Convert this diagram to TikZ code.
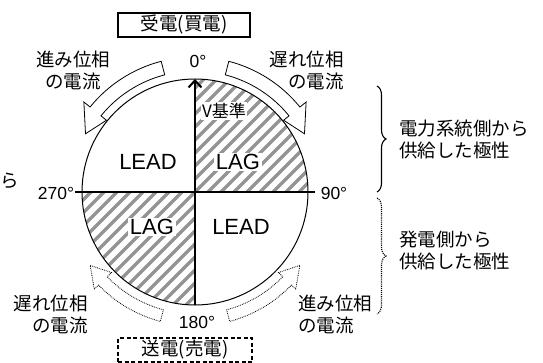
\documentclass[tikz,border=0pt]{standalone}
\usepackage{fontspec}
\setmainfont{Liberation Sans}
\newfontfamily\jp{Noto Sans CJK JP}
\usetikzlibrary{decorations.pathreplacing,arrows.meta,calc}
\begin{document}
\begin{tikzpicture}[x=1pt,y=1pt,
  jptext/.style={font=\jp\fontsize{18.5}{22}\selectfont, inner sep=1pt},
  degtext/.style={font=\fontsize{17.5}{20}\selectfont, inner sep=1pt},
  quadtext/.style={font=\fontsize{22}{24}\selectfont, inner sep=1.5pt},
  stripe/.style={draw=black!42, line width=3.4pt},
  hollowarrow/.style={draw, line width=0.8pt, fill=white, line join=miter},
  dotarrow/.style={draw, line width=0.8pt, densely dotted, line join=miter},
  bracestyle/.style={decorate, decoration={brace, amplitude=9pt}, line width=1.1pt}
]
\useasboundingbox (0,0) rectangle (543,-363);

% hatching
\begin{scope}[shift={(195,-192)}]
  \begin{scope}
    \clip (0,0) -- (0,113) arc[start angle=90,end angle=0,radius=113] -- cycle;
    \foreach \k in {-22,...,22} \draw[stripe] (\k*13-130,-130) -- ++(260,260);
  \end{scope}
  \begin{scope}
    \clip (0,0) -- (0,-113) arc[start angle=270,end angle=180,radius=113] -- cycle;
    \foreach \k in {-22,...,22} \draw[stripe] (\k*13-130,-130) -- ++(260,260);
  \end{scope}
\end{scope}

% quadrant labels
\node[quadtext] (leadtl) at (148,-162) {LEAD};
\node[quadtext, fill=white] (lagtr) at (238,-162) {LAG};
\node[quadtext, fill=white] (lagbl) at (152,-227) {LAG};
\node[quadtext] (leadbr) at (241,-227) {LEAD};
\node[jptext, fill=white, font=\jp\fontsize{17}{19}\selectfont] (vref) at (224,-111) {V基準};

% circle and axes
\node[circle, draw, line width=1pt, minimum size=226pt, inner sep=0pt, outer sep=0pt] (circ) at (195,-192) {};
\draw[line width=1.3pt] ($(circ.west)+(-7,0)$) -- ($(circ.east)+(7,0)$);
\draw[line width=2pt] (circ.center) -- (circ.south);
\draw[line width=2pt, -{Straight Barb[length=7pt,width=13pt,line width=2pt]}] (circ.center) -- (circ.north);

% angle labels
\node[degtext] (d0) at (198,-61) {0°};
\node[degtext] (d90) at (334,-193) {90°};
\node[degtext] (d270) at (56,-193) {270°};
\node[degtext] (d180) at (197,-322) {180°};

% curved hollow arrows
\begin{scope}[shift={(195,-192)}]
  \draw[hollowarrow] (104.5:121) arc[start angle=104.5,end angle=141,radius=121]
     -- (141:114) -- (152:124) -- (141:143) -- (141:135)
     arc[start angle=141,end angle=104.5,radius=135] -- cycle;
  \draw[hollowarrow] (75.5:121) arc[start angle=75.5,end angle=39,radius=121]
     -- (39:114) -- (28:124) -- (39:143) -- (39:135)
     arc[start angle=39,end angle=75.5,radius=135] -- cycle;
  \draw[dotarrow] (255:122) arc[start angle=255,end angle=224,radius=122]
     -- (224:116) -- (215:128) -- (224:140) -- (224:134)
     arc[start angle=224,end angle=255,radius=134] -- cycle;
  \draw[dotarrow] (285:122) arc[start angle=285,end angle=316,radius=122]
     -- (316:116) -- (325:128) -- (316:140) -- (316:134)
     arc[start angle=316,end angle=285,radius=134] -- cycle;
\end{scope}

% boxes
\node[jptext, draw, line width=1.5pt, minimum width=132pt, minimum height=24pt] (recv) at (184,-25) {受電(買電)};
\node[jptext, draw, line width=1.8pt, dash pattern=on 4pt off 2.5pt, minimum width=134pt, minimum height=24pt] (send) at (185,-350) {送電(売電)};

% arrow texts
\node[jptext, align=center] (tl) at (73,-70) {進み位相\\の電流};
\node[jptext, align=right, anchor=east] (tr) at (345,-70) {遅れ位相\\の電流};
\node[jptext, align=right, anchor=east] (bl) at (89,-314) {遅れ位相\\の電流};
\node[jptext, align=left, anchor=west] (br) at (297,-314) {進み位相\\の電流};

% braces and side texts
\coordinate (b1top) at (377,-86);
\coordinate (b1bot) at (377,-192);
\coordinate (b2top) at (377,-198);
\coordinate (b2bot) at (377,-314);
\draw[bracestyle] (b1top) -- (b1bot);
\draw[bracestyle, densely dotted] (b2top) -- (b2bot);
\node[jptext, align=left, anchor=west] (grid) at (398,-139) {電力系統側から\\供給した極性};
\node[jptext, align=left, anchor=west] (gen) at (398,-251) {発電側から\\供給した極性};

% text at left edge
\node[jptext] (cut) at (10,-181) {ら};
\end{tikzpicture}
\end{document}
